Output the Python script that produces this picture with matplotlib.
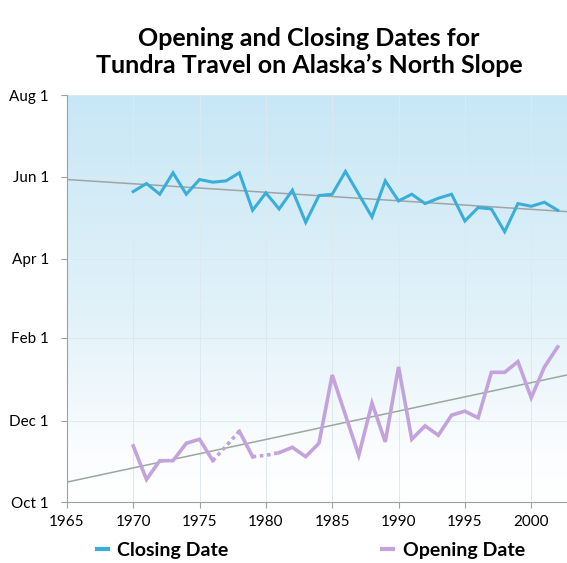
import numpy as np
import matplotlib
matplotlib.use("Agg")
import matplotlib.pyplot as plt
from matplotlib.colors import LinearSegmentedColormap
from matplotlib.lines import Line2D

# tundra travel season, 1970-2002
# dates are stored as days after Oct 1
years = list(range(1970, 2003))
closing = [232, 238, 230, 246, 230, 241, 239, 240, 246, 218, 231, 219, 233,
           209, 229, 230, 247, 230, 213, 240, 225, 230, 223, 227, 230, 210,
           220, 219, 202, 223, 221, 224, 218]
opening = [42, 17, 31, 31, 44, 47, 31, 42, 53, 34, 35, 37, 41, 34, 44, 95,
           65, 35, 74, 45, 101, 47, 57, 50, 65, 68, 63, 97, 97, 105, 78, 101,
           116]
# opening dates that were estimated (drawn dotted)
estimated = [1977, 1980]

trend_years = [1965, 2002.7]
trend_closing = [241, 217]
trend_opening = [15, 95]

tick_days = [0, 61, 123, 182, 243, 304]
tick_labels = ["Oct 1", "Dec 1", "Feb 1", "Apr 1", "Jun 1", "Aug 1"]
year_ticks = [1965, 1970, 1975, 1980, 1985, 1990, 1995, 2000]

blue = "#3aaed8"
lilac = "#c4a3dd"
grey = "#a0a4a4"

fig = plt.figure(figsize=(5.67, 5.63), dpi=100)
ax = fig.add_axes([0.118, 0.108, 0.882, 0.723])

x0, x1 = 1965, 2002.7
y0, y1 = 0, 304

# background gradient, light blue at the top fading to white
cmap = LinearSegmentedColormap.from_list(
    "sky", [(0.0, "#ffffff"), (0.12, "#fbfdfe"), (0.45, "#e2f2f9"),
            (1.0, "#c8e7f6")])
grad = np.linspace(0, 1, 256).reshape(-1, 1)
ax.imshow(grad, extent=[x0, x1, y0, y1], origin="lower", aspect="auto",
          cmap=cmap, zorder=0)

for yr in year_ticks[1:]:
    ax.axvline(yr, color="#dde9ef", lw=0.7, zorder=1)
for d in tick_days[1:]:
    ax.axhline(d, color="#dde9ef", lw=0.7, zorder=1)

# trend lines
ax.plot(trend_years, trend_closing, color=grey, lw=1.1, zorder=2)
ax.plot(trend_years, trend_opening, color="#9aa89f", lw=1.1, zorder=2)

ax.plot(years, closing, color=blue, lw=2.2, zorder=3, solid_joinstyle="miter")

op = np.array(opening, dtype=float)
yrs = np.array(years)
solid = op.copy()
for e in estimated:
    solid[yrs == e] = np.nan
ax.plot(years, solid, color=lilac, lw=2.6, zorder=3, solid_joinstyle="miter")
for e in estimated:
    i = years.index(e)
    ax.plot(years[i - 1:i + 2], opening[i - 1:i + 2], color=lilac, lw=2.6,
            ls=(0, (1, 1)), zorder=3)

ax.set_xlim(x0, x1)
ax.set_ylim(y0, y1)
ax.set_xticks(year_ticks)
ax.set_yticks(tick_days)
ax.set_yticklabels(tick_labels)

for s in ["top", "right"]:
    ax.spines[s].set_visible(False)
for s in ["left", "bottom"]:
    ax.spines[s].set_color("#9aa0a3")
    ax.spines[s].set_linewidth(0.8)
ax.tick_params(axis="both", colors="#9aa0a3", length=4, width=0.8,
               labelcolor="black", labelsize=11)
ax.tick_params(axis="y", pad=9)
ax.tick_params(axis="x", pad=5)
for lab in ax.get_xticklabels() + ax.get_yticklabels():
    lab.set_family("Lato")

fig.text(0.545, 0.908, "Opening and Closing Dates for\nTundra Travel on Alaska\u2019s North Slope",
         ha="center", va="center", fontsize=18, family="Lato",
         fontweight="bold", linespacing=1.2)

handles = [Line2D([], [], color=blue, lw=3),
           Line2D([], [], color=lilac, lw=3)]
fig.legend(handles, ["Closing Date", "Opening Date"], loc="center",
           bbox_to_anchor=(0.548, 0.022), ncol=2, frameon=False,
           handlelength=0.55, handletextpad=0.5, columnspacing=7.9,
           prop={"family": "Lato", "weight": "bold", "size": 14})

fig.savefig("out.png", dpi=100)
